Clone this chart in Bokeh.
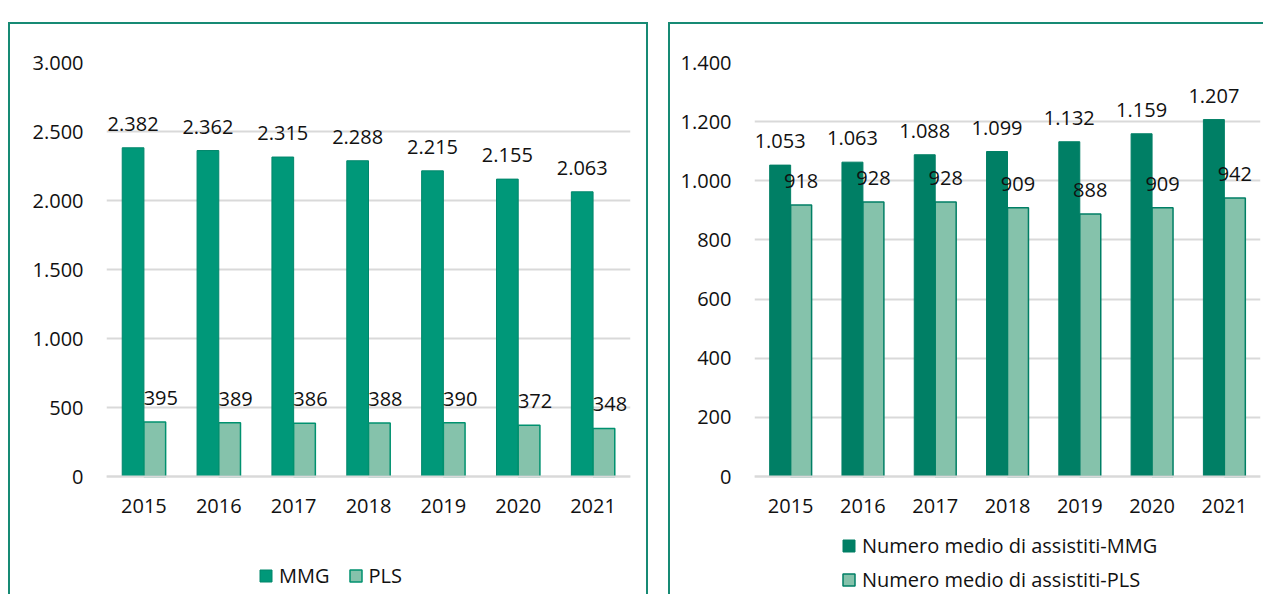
from bokeh.plotting import figure
from bokeh.models import ColumnDataSource, FactorRange, Range1d, FixedTicker, Legend, LegendItem, Spacer
from bokeh.layouts import row, column
from bokeh.transform import dodge
from bokeh.core.properties import value
from bokeh.embed import file_html
from bokeh.resources import INLINE

years = ["2015", "2016", "2017", "2018", "2019", "2020", "2021"]

mmg_left = [2382, 2362, 2315, 2288, 2215, 2155, 2063]
pls_left = [395, 389, 386, 388, 390, 372, 348]

mmg_right = [1053, 1063, 1088, 1099, 1132, 1159, 1207]
pls_right = [918, 928, 928, 909, 888, 909, 942]

left_ticks = [0, 500, 1000, 1500, 2000, 2500, 3000]
left_tick_labels = ["0", "500", "1.000", "1.500", "2.000", "2.500", "3.000"]
right_ticks = [0, 200, 400, 600, 800, 1000, 1200, 1400]
right_tick_labels = ["0", "200", "400", "600", "800", "1.000", "1.200", "1.400"]

left_names = ["MMG", "PLS"]
right_names = ["Numero medio di assistiti-MMG", "Numero medio di assistiti-PLS"]

FONT = "Open Sans"
BORDER = "2px solid #178A74"


def fmt(v):
    return f"{v:,}".replace(",", ".")


def make_panel(mmg, pls, ticks, tick_labels, ymin, ymax, names, width, height,
               mb_left, mb_right, mmg_color, mmg_line, pls_line, legend_loc,
               legend_orient, pls_xoff, styles):
    src = ColumnDataSource(dict(
        years=years, mmg=mmg, pls=pls,
        mmg_lbl=[fmt(v) for v in mmg], pls_lbl=[fmt(v) for v in pls],
    ))
    p = figure(x_range=FactorRange(factors=years), y_range=Range1d(ymin, ymax),
               width=width, height=height, output_backend="svg",
               toolbar_location=None, min_border_left=mb_left,
               min_border_right=mb_right, min_border_top=38,
               min_border_bottom=2)
    p.styles = styles
    p.outline_line_color = None
    p.background_fill_color = "white"
    p.border_fill_color = "white"

    w = 0.29
    r1 = p.vbar(x=dodge("years", -w / 2, range=p.x_range), top="mmg", bottom=0,
                width=w, source=src, fill_color=mmg_color, line_color=mmg_line,
                line_width=1)
    r2 = p.vbar(x=dodge("years", w / 2, range=p.x_range), top="pls", bottom=0,
                width=w, source=src, fill_color="#85C2AB", line_color=pls_line,
                line_width=1.5)

    p.text(x=dodge("years", -w / 2, range=p.x_range), y="mmg", text="mmg_lbl",
           source=src, text_align="center", text_baseline="bottom", y_offset=-17,
           text_font=value(FONT), text_font_size="20px", text_color="#111111")
    p.text(x=dodge("years", w / 2, range=p.x_range), y="pls", text="pls_lbl",
           source=src, text_align="center", text_baseline="bottom", y_offset=-17,
           x_offset=pls_xoff,
           text_font=value(FONT), text_font_size="20px", text_color="#111111")

    p.yaxis.ticker = FixedTicker(ticks=ticks)
    p.yaxis.major_label_overrides = {t: l for t, l in zip(ticks, tick_labels)}
    p.yaxis.axis_line_color = None
    p.yaxis.major_tick_line_color = None
    p.yaxis.minor_tick_line_color = None
    p.yaxis.major_label_standoff = 17
    p.xaxis.fixed_location = 0
    p.xaxis.axis_line_color = "#D9D9D9"
    p.xaxis.axis_line_width = 2
    p.xaxis.major_tick_line_color = None
    p.xaxis.minor_tick_line_color = None
    p.xaxis.separator_line_color = None
    p.xaxis.major_label_standoff = 16
    for ax in (p.xaxis, p.yaxis):
        ax.major_label_text_font = FONT
        ax.major_label_text_font_size = "20px"
        ax.major_label_text_color = "#111111"
    p.xgrid.grid_line_color = None
    p.ygrid.grid_line_color = "#D9D9D9"
    p.ygrid.grid_line_width = 2
    p.ygrid.ticker = FixedTicker(ticks=ticks)

    legend = Legend(items=[LegendItem(label=names[0], renderers=[r1]),
                           LegendItem(label=names[1], renderers=[r2])],
                    location=legend_loc, orientation=legend_orient,
                    border_line_color=None, background_fill_alpha=0,
                    label_text_font=FONT, label_text_font_size="20px",
                    label_text_color="#111111",
                    glyph_width=15, glyph_height=15, label_standoff=6,
                    spacing=18 if legend_orient == "horizontal" else 7,
                    padding=0, margin=0)
    p.add_layout(legend, "center")
    return p


left = make_panel(mmg_left, pls_left, left_ticks, left_tick_labels, -855, 3000,
                  left_names, 640, 572, 96, 20, "#009879", "#00866B", "#00916F",
                  (152, 5), "horizontal", 6,
                  {"border-top": BORDER, "border-left": BORDER, "border-right": BORDER})
right = make_panel(mmg_right, pls_right, right_ticks, right_tick_labels, -399, 1400,
                   right_names, 595, 572, 84, 5, "#007F65", "#007F65", "#007F65",
                   (87, 1), "vertical", 0,
                   {"border-top": BORDER, "border-left": BORDER})

layout = column(Spacer(height=22), row(Spacer(width=8), left, Spacer(width=20), right))

open("out.html", "w").write(file_html(layout, INLINE))
